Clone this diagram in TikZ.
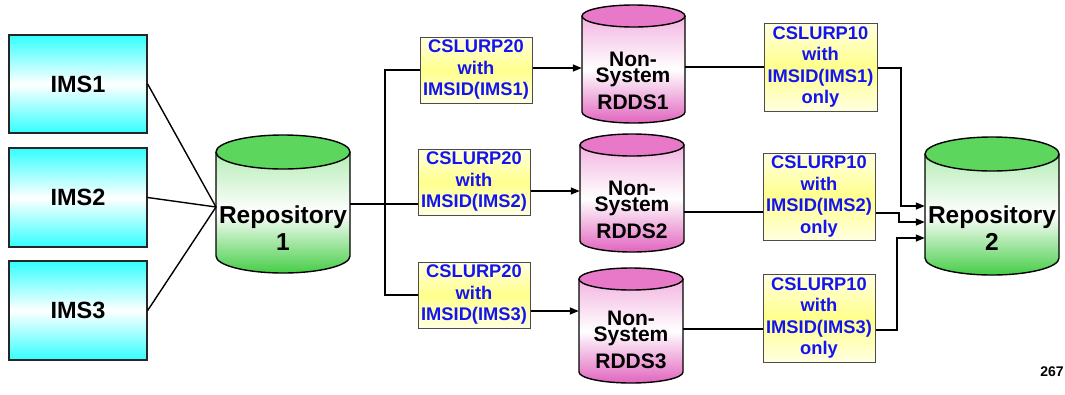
\documentclass[tikz,border=0pt]{standalone}
\usepackage{fontspec}
\setmainfont{Liberation Sans}
\usetikzlibrary{arrows.meta}
\definecolor{cyanc}{RGB}{51,255,255}
\definecolor{greentop}{RGB}{92,214,92}
\definecolor{greenbot}{RGB}{70,205,70}
\definecolor{pinktop}{RGB}{232,120,200}
\definecolor{pinkbot}{RGB}{225,100,190}
\definecolor{yelmid}{RGB}{255,255,140}
\definecolor{yelend}{RGB}{255,255,225}
\definecolor{txtblue}{RGB}{20,20,240}
\newcommand\cylshape[8]{%
  \pgfmathsetmacro\cx{(#1+#2)/2}\pgfmathsetmacro\rx{(#2-#1)/2}%
  \pgfmathsetmacro\yu{#3-#5}\pgfmathsetmacro\yd{#4+#5}%
  \path[top color=#7, bottom color=#8, middle color=white]
    (#1,\yu) -- (#1,\yd) arc[start angle=180,end angle=360,x radius=\rx pt,y radius=#5pt] -- (#2,\yu) -- cycle;
  \draw[cylline] (#1,\yu) -- (#1,\yd) arc[start angle=180,end angle=360,x radius=\rx pt,y radius=#5pt] -- (#2,\yu);
  \draw[cylline, fill=#6] (\cx,\yu) ellipse[x radius=\rx pt, y radius=#5pt];
}
\tikzset{
  cylline/.style={draw=black, line width=1.4pt},
  ims/.style={draw=black!85, line width=1.3pt, top color=cyanc, bottom color=cyanc, middle color=white,
    minimum width=138pt, minimum height=98pt, inner sep=0pt, font=\fontsize{23.5}{27}\selectfont\bfseries},
  ybox/.style={draw=black!70, line width=1pt, top color=yelend, bottom color=yelend, middle color=yelmid,
    text=txtblue, align=center, inner sep=0pt, font=\fontsize{18.3}{21.5}\selectfont\bfseries},
  cylbox/.style={inner sep=0pt, draw=none},
  cyltext/.style={align=center, inner sep=0pt, font=\fontsize{24.5}{27}\selectfont\bfseries},
  rddstext/.style={align=center, inner sep=0pt, font=\fontsize{21}{22}\selectfont\bfseries},
  conn/.style={draw=black, line width=1.4pt},
  arr/.style={conn, -{Triangle[length=9pt,width=7pt]}},
}
\begin{document}
\begin{tikzpicture}[x=1pt,y=1pt]
\useasboundingbox (0,0) rectangle (1065,-394);
% cylinder shapes
\cylshape{216}{350}{-135}{-273}{17}{greentop}{greentop!45}{greenbot}
\cylshape{925}{1059}{-137}{-275}{17}{greentop}{greentop!45}{greenbot}
\cylshape{582}{685}{-5}{-123}{11}{pinktop}{pinktop!55}{pinkbot}
\cylshape{580}{684}{-134}{-252}{11}{pinktop}{pinktop!55}{pinkbot}
\cylshape{579}{683}{-268}{-383}{11}{pinktop}{pinktop!55}{pinkbot}
% cylinder nodes
\node[cylbox, minimum width=134pt, minimum height=138pt] (rep1) at (283,-204) {};
\node[cylbox, minimum width=134pt, minimum height=138pt] (rep2) at (992,-206) {};
\node[cylbox, minimum width=103pt, minimum height=118pt] (r1) at (633.5,-64) {};
\node[cylbox, minimum width=104pt, minimum height=118pt] (r2) at (632,-193) {};
\node[cylbox, minimum width=104pt, minimum height=115pt] (r3) at (631,-325.5) {};
\node[cyltext] (rep1t) at (283,-228) {Repository\\1};
\node[cyltext] (rep2t) at (992,-228) {Repository\\2};
\node[rddstext] (r1t) at (633,-81) {Non-\\[-5.5pt]System\\[5pt]RDDS1};
\node[rddstext] (r2t) at (632,-210) {Non-\\[-5.5pt]System\\[5pt]RDDS2};
\node[rddstext] (r3t) at (631,-340) {Non-\\[-5.5pt]System\\[5pt]RDDS3};
% IMS boxes
\node[ims] (ims1) at (78,-84) {IMS1};
\node[ims, minimum height=99pt] (ims2) at (78,-197.5) {IMS2};
\node[ims, minimum height=99pt] (ims3) at (78,-310.5) {IMS3};
% CSLURP20 boxes
\node[ybox, minimum width=112pt, minimum height=66pt] (b1) at (476,-70) {CSLURP20\\with\\IMSID(IMS1)};
\node[ybox, minimum width=112pt, minimum height=66pt] (b2) at (474,-182) {CSLURP20\\with\\IMSID(IMS2)};
\node[ybox, minimum width=112pt, minimum height=66pt] (b3) at (474,-295) {CSLURP20\\with\\IMSID(IMS3)};
% CSLURP10 boxes
\node[ybox, minimum width=113pt, minimum height=88pt] (c1) at (820.5,-67) {CSLURP10\\with\\IMSID(IMS1)\\only};
\node[ybox, minimum width=112pt, minimum height=87pt] (c2) at (819,-196.5) {CSLURP10\\with\\IMSID(IMS2)\\only};
\node[ybox, minimum width=112pt, minimum height=88pt] (c3) at (819,-318) {CSLURP10\\with\\IMSID(IMS3)\\only};
\node[font=\fontsize{14}{16}\selectfont\bfseries, inner sep=0pt] (pg) at (1052,-372) {267};
% IMS -> Repository 1
\coordinate (join) at (216,-207);
\draw[conn] (ims1.east) -- (join);
\draw[conn] (ims2.east) -- (join);
\draw[conn] (ims3.east) -- (join);
% Repository 1 -> CSLURP20
\coordinate (trunk) at (385,-204);
\draw[conn] (rep1.east) -- (rep1.east -| b2.west);
\draw[conn] (b1.west) -- (trunk |- b1.west) -- (trunk |- b3.west) -- (b3.west);
% CSLURP20 -> RDDS
\draw[arr] ([yshift=2pt]b1.east) -- ([yshift=2pt]b1.east -| r1.west);
\draw[arr] ([yshift=-9pt]b2.east) -- ([yshift=-9pt]b2.east -| r2.west);
\draw[arr] ([yshift=-16pt]b3.east) -- ([yshift=-16pt]b3.east -| r3.west);
% RDDS -> CSLURP10
\draw[conn] (c1.west -| r1.east) -- (c1.west);
\draw[conn] ([yshift=-15.5pt]c2.west -| r2.east) -- ([yshift=-15.5pt]c2.west);
\draw[conn] ([yshift=-11pt]c3.west -| r3.east) -- ([yshift=-11pt]c3.west);
% CSLURP10 -> Repository 2
\draw[arr] ([yshift=-1pt]c1.east) -| (901,-206) -- (rep2.west);
\draw[arr] ([yshift=-16.5pt]c2.east) -| (899,-222) -- ([yshift=-16pt]rep2.west);
\draw[arr] ([yshift=-12pt]c3.east) -| (897,-238) -- ([yshift=-32pt]rep2.west);
\end{tikzpicture}
\end{document}
